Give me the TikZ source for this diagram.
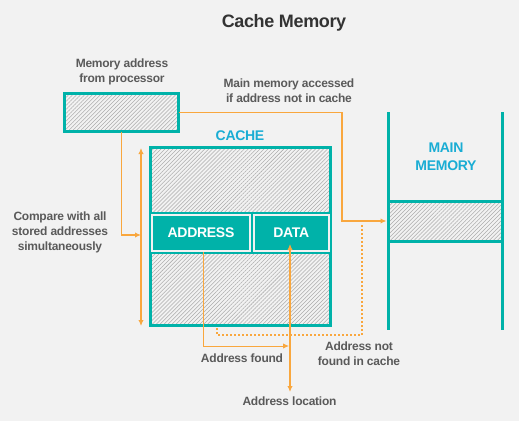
\documentclass[tikz,border=0pt]{standalone}
\usepackage{fontspec}
\setmainfont{Liberation Sans}[LetterSpace=-2]
\usetikzlibrary{positioning}
\usetikzlibrary{arrows.meta}
\usetikzlibrary{patterns.meta}
\definecolor{cbg}{HTML}{F2F2F2}
\definecolor{cteal}{HTML}{00B2A9}
\definecolor{corange}{HTML}{F9A73E}
\definecolor{clabel}{HTML}{1AADD4}
\definecolor{ctext}{HTML}{5A5A5A}
\definecolor{ctitle}{HTML}{333333}
\definecolor{chatch}{HTML}{ADADAD}

\begin{document}
\begin{tikzpicture}[x=0.75pt, y=-0.75pt, >={Latex[length=4.5pt,width=4pt]},
    hatch/.style={pattern={Lines[angle=45, distance=2.1pt, line width=0.4pt]}, pattern color=chatch},
    box/.style={draw=cteal, line width=2pt, hatch, inner sep=0pt},
    cell/.style={fill=cteal, draw=cbg, line width=1.5pt, text=white, inner sep=0pt, font=\fontsize{10.5}{12}\selectfont\bfseries},
    lbl/.style={text=ctext, align=center, font=\fontsize{9}{11.25}\selectfont\bfseries},
    head/.style={text=clabel, align=center, font=\fontsize{10.5}{13.5}\selectfont\bfseries},
    mmline/.style={draw=cteal, line width=2.25pt},
    oline/.style={draw=corange, line width=1.1pt},
    othin/.style={draw=corange, line width=0.7pt},
    othick/.style={draw=corange, line width=1.5pt},
    odot/.style={draw=corange, line width=1.5pt, dash pattern=on 1.5pt off 1.5pt}]

    \fill[cbg] (0,0) rectangle (519,421);
    \useasboundingbox (0,0) rectangle (519,421);

    % Title
    \node[text=ctitle, font=\fontsize{13.5}{16}\selectfont\bfseries] (title) at (284,23) {Cache Memory};

    % Processor
    \node[box, minimum width=85.75pt, minimum height=28.75pt] (proc) at (121.5,112.5) {};
    \node[lbl] (proclbl) at (122,72) {Memory address\\from processor};

    % Cache block
    \node[box, line width=2.25pt, minimum width=135.2pt, minimum height=133.7pt] (cache) at (240.5,236.5) {};
    \node[fill=cteal, inner sep=0pt, minimum width=137.25pt, minimum height=31.5pt] (band) at (240.5,233) {};
    \node[cell, minimum width=73.5pt, minimum height=27pt] (addr) at (201,233) {ADDRESS};
    \node[cell, minimum width=55.9pt, minimum height=27pt] (data) at (291.25,233) {DATA};
    \node[head] (cachelbl) at (240,136) {CACHE};

    % Main memory
    \coordinate (mmtl) at (388,112);
    \coordinate (mmbl) at (388,330);
    \coordinate (mmtr) at (502,112);
    \coordinate (mmbr) at (502,330);
    \node[box, line width=2.25pt, minimum width=85.5pt, minimum height=30pt] (mmcell) at (445,221) {};
    \draw[mmline] (mmtl) -- (mmbl);
    \draw[mmline] (mmtr) -- (mmbr);
    \node[head] (mmlbl) at (446,157) {MAIN\\MEMORY};

    % Compare with all addresses
    \coordinate (cmptop) at (141,148);
    \coordinate (cmpbot) at (141,326);
    \coordinate (cmpin) at (141,235);
    \draw[oline, <->] (cmptop) -- (cmpbot);
    \draw[oline, ->] (proc.south) |- (cmpin);
    \node[lbl] (cmplbl) at (60,232) {Compare with all\\stored addresses\\simultaneously};

    % Main memory access
    \coordinate (mmbend) at (342,112.5);
    \draw[oline, ->] (proc.east) -- (mmbend) |- (mmcell.west);
    \node[lbl] (mmacc) at (289,91) {Main memory accessed\\if address not in cache};

    % Address not found
    \coordinate (nfa) at (217,328);
    \coordinate (nfb) at (362,335);
    \coordinate (nfc) at (362,223);
    \draw[odot] (nfa) |- (nfb) -- (nfc);
    \node[lbl] (nflbl) at (359,354) {Address not\\found in cache};

    % Address found
    \coordinate (foundpt) at (289,346);
    \draw[othin, ->] ([xshift=1.5pt]addr.south) |- (foundpt);
    \node[lbl] (foundlbl) at (242,358) {Address found};

    % Address location
    \coordinate (loctop) at (290,244);
    \coordinate (locbot) at (290,392);
    \draw[othick, <->] (loctop) -- (locbot);
    \node[lbl] (loclbl) at (289.5,401) {Address location};
\end{tikzpicture}
\end{document}
